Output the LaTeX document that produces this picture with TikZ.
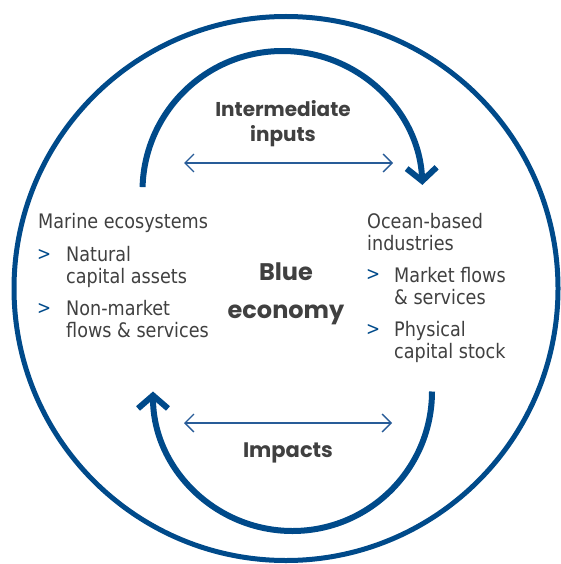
\documentclass[tikz,border=0pt]{standalone}
\usepackage{fontspec}
\setmainfont{DejaVu Sans}[FakeStretch=0.88]
\newfontfamily\headfont{Poppins}
\usetikzlibrary{arrows.meta}
\definecolor{oceanblue}{RGB}{0,74,138}
\definecolor{textgray}{RGB}{64,64,64}
\definecolor{thinblue}{RGB}{40,92,152}
\begin{document}
\begin{tikzpicture}[x=1bp,y=-1bp,
  body/.style={text=textgray, font=\fontsize{20bp}{22bp}\selectfont, inner sep=0pt, anchor=base west, align=left},
  chev/.style={text=oceanblue, font=\fontsize{19bp}{19bp}\selectfont, inner sep=0pt, anchor=west},
  head/.style={text=textgray, font=\headfont\bfseries\fontsize{20bp}{25bp}\selectfont, inner sep=0pt, align=center, anchor=base},
  ring/.style={draw=oceanblue, line width=5bp},
  loopline/.style={draw=oceanblue, line width=6bp, -{Straight Barb[length=13bp,width=30bp]}},
  link/.style={draw=thinblue, line width=1.3bp, {Straight Barb[length=9bp,width=18bp]}-{Straight Barb[length=9bp,width=18bp]}}
]
\useasboundingbox (0,0) rectangle (561,564);
% outer ring
\draw[ring] (286,288.5) circle[radius=272];
% loops
\draw[loopline] (282.5,191) ++(181.6:140) coordinate (topstart) arc[start angle=181.6, end angle=357.5, radius=140] coordinate (topend);
\draw[loopline] (292.5,391.5) ++(0:139.5) coordinate (botstart) arc[start angle=0, end angle=180, radius=139.5] coordinate (botend);
% thin double arrows
\coordinate (tL) at (184,163);
\coordinate (tR) at (393,163);
\coordinate (bL) at (184,423);
\coordinate (bR) at (392,423);
\draw[link] (tL) -- (tR);
\draw[link] (bL) -- (bR);
% headings (base anchor = last line baseline)
\node[head] (inter) at (283,142) {Intermediate\\inputs};
\node[head, font=\headfont\bfseries\fontsize{21bp}{25bp}\selectfont] (impacts) at (288,457) {Impacts};
\node[head, font=\headfont\bfseries\fontsize{24bp}{38bp}\selectfont] (blue) at (286,318) {Blue\\economy};
% left block
\node[body] (marine) at (38,228) {Marine ecosystems};
\node[chev] (c1) at (37,255) {>};
\node[body] (natural) at (66,283) {Natural\\capital assets};
\node[chev] (c2) at (37,309) {>};
\node[body] (nonmarket) at (66,337) {Non-market\\flows \& services};
% right block
\node[body] (ocean) at (367,250) {Ocean-based\\industries};
\node[chev] (c3) at (366,275) {>};
\node[body] (market) at (394,304) {Market flows\\\& services};
\node[chev] (c4) at (366,330) {>};
\node[body] (physical) at (394,358) {Physical\\capital stock};
\end{tikzpicture}
\end{document}
